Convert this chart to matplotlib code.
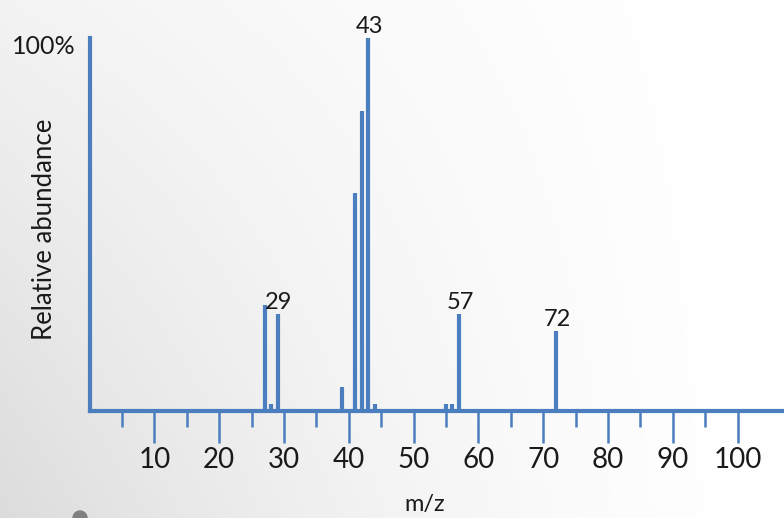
import numpy as np
import matplotlib
matplotlib.use("Agg")
import matplotlib.pyplot as plt
from matplotlib.colors import LinearSegmentedColormap

# Data
mz = [27, 28, 29, 39, 41, 42, 43, 44, 55, 56, 57, 72]
abundance = [28.4, 2.0, 26.0, 6.4, 58.4, 80.4, 100.0, 2.0, 2.0, 2.0, 26.0, 21.4]
labeled_peaks = [29, 43, 57, 72]
major_ticks = [10, 20, 30, 40, 50, 60, 70, 80, 90, 100]
minor_ticks = [5, 15, 25, 35, 45, 55, 65, 75, 85, 95]

W, H = 784, 518
BLUE = "#4a7ebf"
FONT = "Lato"

fig = plt.figure(figsize=(W / 100, H / 100), dpi=100)

# background gradient (white at right, light grey towards bottom-left)
bg = fig.add_axes([0, 0, 1, 1], zorder=0)
yy, xx = np.mgrid[0:H, 0:W]
fx = (1 - xx / W) ** 1.6
gray = 255 - (12 * fx + 23 * (yy / H) * fx)
img = np.dstack([gray, gray, gray]) / 255.0
bg.imshow(img, aspect="auto", extent=[0, W, H, 0])
bg.set_xlim(0, W)
bg.set_ylim(H, 0)
bg.axis("off")
bg.add_patch(plt.Circle((80, 518), 7, color="#808080", clip_on=True))

x0, x1 = 89.6, 784.0
ybot, ytop = 411.0, 38.0
ax = fig.add_axes([x0 / W, (H - ybot) / H, (x1 - x0) / W, (ybot - ytop) / H], zorder=1)
ax.set_facecolor("none")
ppu = 6.48
ax.set_xlim(0, (x1 - x0) / ppu)
ax.set_ylim(0, 100)

ax.vlines(mz, 0, abundance, color=BLUE, linewidth=3.0, zorder=3)

for s in ["top", "right"]:
    ax.spines[s].set_visible(False)
for s in ["left", "bottom"]:
    ax.spines[s].set_color(BLUE)
    ax.spines[s].set_linewidth(3.0)
ax.spines["bottom"].set_zorder(4)

ax.set_yticks([])
ax.set_xticks(major_ticks)
ax.set_xticks(minor_ticks, minor=True)
ax.set_xticklabels([str(t) for t in major_ticks], fontsize=20, family=FONT, color="#1a1a1a")
ax.tick_params(axis="x", which="major", direction="out", length=23, width=1.8,
               color=BLUE, pad=3)
ax.tick_params(axis="x", which="minor", direction="out", length=11.5, width=1.8,
               color=BLUE)

for m, a in zip(mz, abundance):
    if m in labeled_peaks:
        ax.annotate(str(m), (m, a), xytext=(1, 1), textcoords="offset points",
                    ha="center", va="bottom", fontsize=17, family=FONT,
                    color="#1a1a1a", annotation_clip=False)

fig.text(44 / W, 1 - 46 / H, "100%", ha="center", va="center", fontsize=18,
         family=FONT, color="#1a1a1a")
fig.text(45 / W, 1 - 229 / H, "Relative abundance", rotation=90, ha="center",
         va="center", fontsize=18.5, family=FONT, color="#1a1a1a")
fig.text(425 / W, 1 - 505 / H, "m/z", ha="center", va="center", fontsize=17,
         family=FONT, color="#1a1a1a")

fig.savefig("out.png", dpi=100)
